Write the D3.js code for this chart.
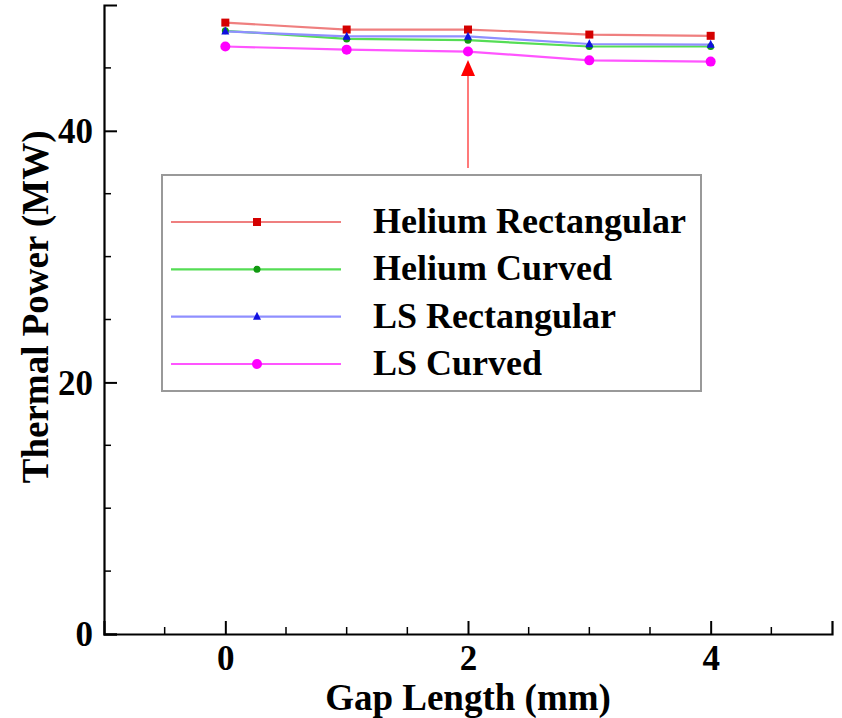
<!DOCTYPE html>
<html>
<head>
<meta charset="utf-8">
<script src="https://cdn.jsdelivr.net/npm/d3@7/dist/d3.min.js"></script>
<style>
  html, body { margin: 0; padding: 0; background: #ffffff; }
  svg { display: block; }
  text { font-family: "Liberation Serif", "Times New Roman", serif; font-weight: bold; fill: #000; }
</style>
</head>
<body>
<svg id="chart" width="842" height="718"></svg>
<script>
// ---- data ----
const gapLengths = [0, 1, 2, 3, 4];
const seriesNames = ["Helium Rectangular", "Helium Curved", "LS Rectangular", "LS Curved"];
const heliumRectangular = [48.6, 48.05, 48.05, 47.65, 47.55];
const heliumCurved      = [47.95, 47.3, 47.2, 46.7, 46.7];
const lsRectangular     = [47.9, 47.5, 47.5, 46.9, 46.85];
const lsCurved          = [46.7, 46.45, 46.3, 45.6, 45.5];
const xTickValues = [0, 2, 4];
const yTickValues = [0, 20, 40];
const xLabel = "Gap Length (mm)";
const yLabel = "Thermal Power (MW)";
const arrowAt = 2;

const seriesValues = [heliumRectangular, heliumCurved, lsRectangular, lsCurved];
const styles = [
  { line: "#ef7f7f", mark: "#d40000", shape: "square", size: 8 },
  { line: "#55dd55", mark: "#119911", shape: "circle", size: 3.5 },
  { line: "#8f8fff", mark: "#1010e0", shape: "triangle", size: 8 },
  { line: "#ff55ff", mark: "#ff00ff", shape: "circle", size: 5 }
];

const svg = d3.select("#chart");
const x = d3.scaleLinear().domain([-1, 5]).range([104, 832]);
const y = d3.scaleLinear().domain([0, 50]).range([634, 5]);

// ---- axes ----
const g = svg.append("g");
const xMinor = d3.range(-0.5, 5.0, 0.5).filter(v => !xTickValues.includes(v));
const yMinor = d3.range(5, 50, 5).filter(v => !yTickValues.includes(v));

const xAxis = d3.axisBottom(x).tickValues(xTickValues).tickSize(-13).tickPadding(0).tickFormat(d3.format("d"));
const yAxis = d3.axisLeft(y).tickValues(yTickValues).tickSize(-13).tickPadding(0).tickFormat(d3.format("d"));

const gx = g.append("g").attr("transform", `translate(0,${y(0)})`).call(xAxis);
const gy = g.append("g").attr("transform", `translate(${x(-1)},0)`).call(yAxis);
[gx, gy].forEach(a => {
  a.select(".domain").attr("stroke", "#000").attr("stroke-width", 2.2);
  a.selectAll(".tick line").attr("stroke", "#000").attr("stroke-width", 2);
  a.selectAll(".tick text").attr("fill", "#000").style("font-size", "35px")
    .style("font-family", "'Liberation Serif', serif").style("font-weight", "bold");
});
gx.selectAll(".tick text").attr("y", 36).attr("dy", null);
gy.selectAll(".tick text").attr("x", -11).attr("dy", "0.34em");

g.append("g").selectAll("line").data(xMinor).join("line")
  .attr("x1", d => x(d)).attr("x2", d => x(d))
  .attr("y1", y(0)).attr("y2", y(0) - 7).attr("stroke", "#000").attr("stroke-width", 1.5);
g.append("g").selectAll("line").data(yMinor).join("line")
  .attr("x1", x(-1)).attr("x2", x(-1) + 7)
  .attr("y1", d => y(d)).attr("y2", d => y(d)).attr("stroke", "#000").attr("stroke-width", 1.5);

// axis titles
svg.append("text").attr("x", x(2)).attr("y", 710).attr("text-anchor", "middle")
  .style("font-size", "37px").text(xLabel);
svg.append("text").attr("transform", `translate(48,${y(26)}) rotate(-90)`)
  .attr("text-anchor", "middle").style("font-size", "37px").text(yLabel);

// ---- markers ----
function drawMarker(sel, st, cx, cy) {
  if (st.shape === "square") {
    sel.append("rect").attr("x", cx - st.size / 2).attr("y", cy - st.size / 2)
      .attr("width", st.size).attr("height", st.size).attr("fill", st.mark);
  } else if (st.shape === "circle") {
    sel.append("circle").attr("cx", cx).attr("cy", cy).attr("r", st.size).attr("fill", st.mark);
  } else {
    const s = st.size;
    sel.append("path").attr("d", `M${cx},${cy - s * 0.6}L${cx + s / 2},${cy + s * 0.4}L${cx - s / 2},${cy + s * 0.4}Z`)
      .attr("fill", st.mark);
  }
}

// ---- series ----
const line = d3.line().x((d, i) => x(gapLengths[i])).y(d => y(d));
seriesValues.forEach((vals, k) => {
  const st = styles[k];
  svg.append("path").attr("d", line(vals)).attr("fill", "none")
    .attr("stroke", st.line).attr("stroke-width", 2.2);
});
[1, 0, 2, 3].forEach(k => {
  const st = styles[k];
  const sg = svg.append("g");
  seriesValues[k].forEach((v, i) => drawMarker(sg, st, x(gapLengths[i]), y(v)));
});

// ---- arrow ----
const ax = x(arrowAt);
svg.append("line").attr("x1", ax).attr("x2", ax).attr("y1", 168).attr("y2", 74)
  .attr("stroke", "#ff2020").attr("stroke-width", 1.2);
svg.append("path").attr("d", `M${ax},60L${ax + 7},76L${ax - 7},76Z`).attr("fill", "#ff0000");

// ---- legend ----
const leg = svg.append("g");
leg.append("rect").attr("x", 162).attr("y", 175).attr("width", 539).attr("height", 216)
  .attr("fill", "#fff").attr("stroke", "#999").attr("stroke-width", 2);
const rowY = d3.scalePoint().domain(seriesNames).range([222, 364]);
seriesNames.forEach((name, k) => {
  const st = styles[k];
  const yy = rowY(name);
  leg.append("line").attr("x1", 171).attr("x2", 341).attr("y1", yy).attr("y2", yy)
    .attr("stroke", st.line).attr("stroke-width", 2.2);
  drawMarker(leg, st, 257, yy);
  leg.append("text").attr("x", 373).attr("y", yy + 11).style("font-size", "36px").text(name);
});
</script>
</body>
</html>
